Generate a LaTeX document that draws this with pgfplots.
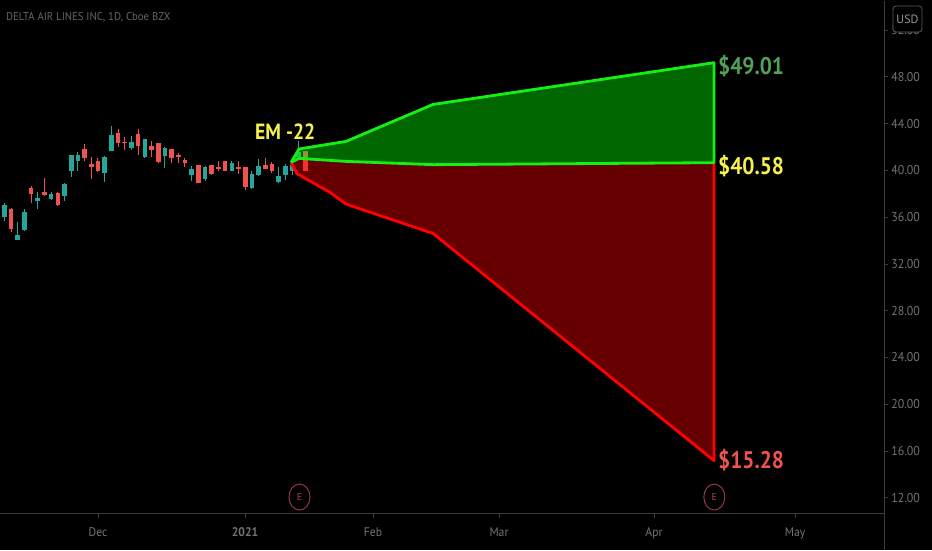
\documentclass[border=0pt]{standalone}
\usepackage{fontspec}
\setmainfont{PT Sans}
\usepackage{pgfplots}
\pgfplotsset{compat=1.18}
\usetikzlibrary{shapes.geometric}
\definecolor{up}{HTML}{26A69A}
\definecolor{dn}{HTML}{EF5350}
\definecolor{axln}{HTML}{3C3C3C}
\definecolor{txt}{HTML}{747474}
\definecolor{lime}{HTML}{14F014}
\definecolor{yel}{HTML}{F6F04E}
\newcommand{\candle}[6]{%
  \addplot[#1,line width=0.9pt,forget plot] coordinates {(#2,#5) (#2,#6)};
  \addplot[#1,line width=4.6pt,forget plot] coordinates {(#2,#3) (#2,#4)};
}
\begin{document}
\begin{tikzpicture}[x=1pt,y=1pt]
\useasboundingbox (0,0) rectangle (932,550);
\fill[black] (0,0) rectangle (932,550);
\draw[axln,line width=1pt] (884,0) -- (884,38);
\begin{axis}[
  at={(0,31)},anchor=south west,
  scale only axis,width=884pt,height=513pt,
  xmin=0,xmax=884,ymin=10.63,ymax=54.51,
  clip=false,
  axis x line*=bottom,axis y line*=right,
  axis line style={axln,line width=1pt,-},
  tick style={axln,line width=0.8pt},
  tick align=outside,major tick length=4pt,
  xtick={98,245,373,499,654,795},
  xticklabels={Dec,\textbf{2021},Feb,Mar,Apr,May},
  ytick={12,16,20,24,28,32,36,40,44,48,52},
  /pgf/number format/fixed,/pgf/number format/fixed zerofill,
  /pgf/number format/precision=2,/pgf/number format/assume math mode=true,
  xticklabel style={font=\fontsize{12.5}{13}\selectfont,text=txt,yshift=-6pt,xscale=0.93},
  yticklabel style={font=\fontsize{12.8}{13}\selectfont,text=txt,xshift=0pt,xscale=0.93},
]
% down and up candles: x, body bottom, body top, low, high
\candle{up}{4.3}{36.04}{37.07}{35.70}{37.18}
\candle{dn}{11}{34.95}{36.67}{34.73}{36.78}
\candle{up}{17.7}{34.04}{34.44}{34.04}{35.55}
\candle{up}{24.4}{34.90}{36.47}{34.84}{36.69}
\candle{dn}{31}{37.98}{38.46}{37.18}{38.66}
\candle{up}{37.7}{37.35}{37.61}{36.67}{38.12}
\candle{dn}{44.4}{37.86}{38.12}{37.84}{39.35}
\candle{up}{51.1}{37.52}{37.98}{37.46}{38.12}
\candle{dn}{57.8}{37.07}{38.04}{36.92}{38.12}
\candle{up}{64.5}{37.78}{38.83}{37.35}{38.89}
\candle{up}{71.2}{39.97}{41.28}{39.40}{41.31}
\candle{up}{77.9}{40.77}{41.34}{39.97}{41.54}
\candle{dn}{84.6}{41.03}{41.80}{40.77}{42.25}
\candle{dn}{91.3}{40.26}{40.54}{39.29}{41.11}
\candle{dn}{97.9}{39.92}{40.83}{39.89}{41.06}
\candle{up}{104.6}{39.80}{41.11}{39.00}{41.26}
\candle{up}{111.3}{41.68}{43.05}{41.63}{43.82}
\candle{dn}{118}{42.37}{43.19}{41.97}{43.54}
\candle{dn}{124.7}{42.31}{42.45}{41.74}{42.82}
\candle{up}{131.4}{41.91}{42.40}{41.74}{42.97}
\candle{dn}{138.1}{42.11}{43.11}{41.28}{43.54}
\candle{up}{144.8}{41.11}{42.71}{41.08}{42.71}
\candle{dn}{151.5}{41.74}{42.05}{41.11}{42.54}
\candle{dn}{158.2}{40.69}{42.34}{40.63}{42.37}
\candle{up}{164.9}{41.26}{41.91}{40.20}{41.97}
\candle{dn}{171.6}{41.03}{41.83}{40.60}{41.83}
\candle{dn}{178.2}{41.11}{41.34}{40.60}{41.46}
\candle{dn}{184.9}{40.66}{40.89}{40.26}{41.06}
\candle{up}{191.6}{39.57}{40.12}{39.12}{40.40}
\candle{dn}{198.3}{38.95}{40.46}{38.89}{40.49}
\candle{up}{205}{39.26}{40.32}{39.12}{40.40}
\candle{dn}{211.7}{39.69}{40.46}{39.63}{40.49}
\candle{dn}{218.4}{40.14}{40.32}{39.97}{40.83}
\candle{dn}{225.1}{39.97}{40.83}{39.92}{40.83}
\candle{up}{231.8}{39.97}{40.60}{39.92}{40.83}
\candle{dn}{238.5}{40.14}{40.32}{39.69}{40.77}
\candle{dn}{245.2}{38.60}{40.26}{38.35}{40.32}
\candle{up}{251.8}{38.46}{39.69}{38.41}{39.97}
\candle{up}{258.5}{39.63}{40.40}{39.54}{40.97}
\candle{dn}{265.2}{40.14}{40.49}{40.09}{41.03}
\candle{dn}{271.9}{39.97}{40.54}{39.74}{40.74}
\candle{up}{278.6}{38.97}{39.49}{38.89}{40.26}
\candle{up}{285.3}{39.63}{40.34}{39.17}{40.54}
\candle{up}{292}{39.97}{40.49}{39.63}{40.69}
\candle{up}{298.7}{41.17}{41.54}{41.11}{42.54}
\candle{dn}{305.4}{39.97}{41.68}{39.97}{41.68}
% cone fills
\addplot[fill=red,fill opacity=0.4,draw=none,forget plot] coordinates
 {(291,40.68)(299,41.03)(346,40.77)(433,40.49)(714,40.66)(714,15.17)(433,34.61)(346,37.12)(330,38.12)(297,39.72)(291,40.68)};
\addplot[fill=green,fill opacity=0.4,draw=none,forget plot] coordinates
 {(291,40.68)(299,41.83)(346,42.48)(433,45.64)(714,49.21)(714,40.66)(433,40.49)(346,40.77)(299,41.03)(291,40.68)};
% cone outlines
\addplot[red,line width=2.8pt,line join=round,forget plot] coordinates
 {(291,40.68)(297,39.72)(330,38.12)(346,37.12)(433,34.61)(714,15.17)(714,40.66)};
\addplot[lime,line width=2.8pt,line join=round,forget plot] coordinates
 {(291,40.68)(299,41.83)(346,42.48)(433,45.64)(714,49.21)(714,40.66)(433,40.49)(346,40.77)(299,41.03)(291,40.68)};
% annotations
\node[anchor=west,inner sep=0,text=yel,font=\fontsize{22}{23}\selectfont\bfseries,xscale=0.89] at (axis cs:255,43.33) {EM -22};
\node[anchor=west,inner sep=0,text={rgb,255:red,82;green,160;blue,90},font=\fontsize{24}{25}\selectfont\bfseries,xscale=0.89] at (axis cs:718,48.88) {\$49.01};
\node[anchor=west,inner sep=0,text=yel,font=\fontsize{24}{25}\selectfont\bfseries,xscale=0.89] at (axis cs:718,40.4) {\$40.58};
\node[anchor=west,inner sep=0,text=dn,font=\fontsize{24}{25}\selectfont\bfseries,xscale=0.89] at (axis cs:718,15.26) {\$15.28};
\node[ellipse,draw={rgb,255:red,160;green,58;blue,84},line width=0.9pt,inner sep=0,minimum width=21pt,minimum height=26pt,text={rgb,255:red,170;green,62;blue,100},font=\fontsize{10}{11}\selectfont] at (axis cs:299.5,12.06) {E};
\node[ellipse,draw={rgb,255:red,160;green,58;blue,84},line width=0.9pt,inner sep=0,minimum width=21pt,minimum height=26pt,text={rgb,255:red,170;green,62;blue,100},font=\fontsize{10}{11}\selectfont] at (axis cs:714.3,12.06) {E};
\node[anchor=west,inner sep=0,text={rgb,255:red,102;green,102;blue,106},font=\fontsize{11.3}{12}\selectfont,xscale=0.95] at (axis cs:6,53.1) {DELTA AIR LINES INC, 1D, Cboe BZX};
\end{axis}
\node[draw={rgb,255:red,90;green,90;blue,90},fill=black,rounded corners=3pt,line width=0.8pt,minimum width=29pt,minimum height=26pt,inner sep=0,text={rgb,255:red,150;green,150;blue,150},font=\fontsize{12}{13}\selectfont] at (907.5,531) {USD};
\end{tikzpicture}
\end{document}
